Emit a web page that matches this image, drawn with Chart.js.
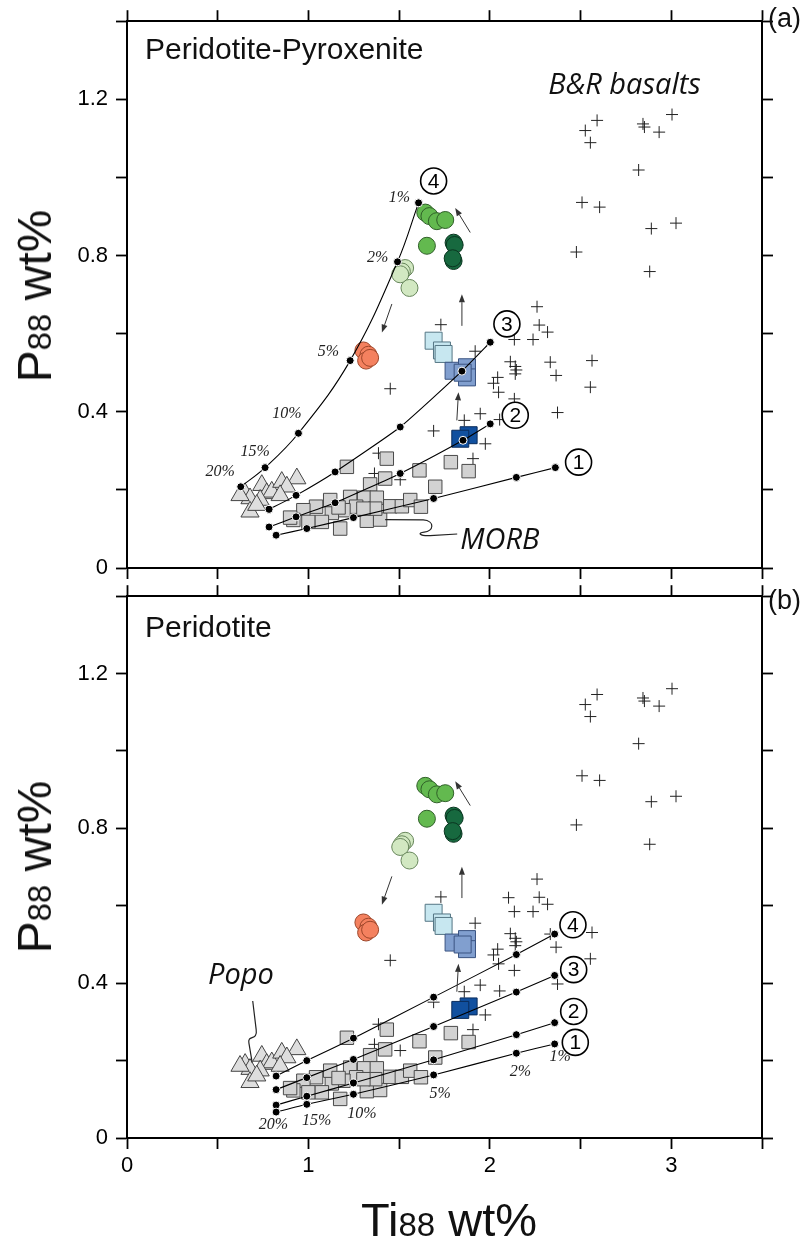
<!DOCTYPE html>
<html>
<head>
<meta charset="utf-8">
<script src="https://cdn.jsdelivr.net/npm/chart.js@4.4.0/dist/chart.umd.min.js"></script>
<style>
    body { margin: 0; background: #fff; width: 807px; height: 1242px; position: relative; overflow: hidden;
           font-family: 'Liberation Sans', Arial, sans-serif; color: #111; }
    canvas { position: absolute; left: 0; }
    .lbl { position: absolute; white-space: nowrap; z-index: 2; line-height: 1; }
    .title { position: absolute; white-space: nowrap; z-index: 2; line-height: 1; font-size: 48px; }
    .title .sub { font-size: 33px; }
    .ytitle { transform: translate(-50%, -50%) rotate(-90deg); }
</style>
</head>
<body>
<canvas id="chartA" width="807" height="600" style="top:0"></canvas>
<canvas id="chartB" width="807" height="667" style="top:575px"></canvas>

<div class="lbl" style="left:145px;top:34px;font-size:30px">Peridotite-Pyroxenite</div>
<div class="lbl" style="left:145px;top:612px;font-size:30px">Peridotite</div>
<div class="lbl" style="left:768px;top:5px;font-size:27px">(a)</div>
<div class="lbl" style="left:768px;top:587px;font-size:27px">(b)</div>
<div class="title ytitle" style="left:35px;top:296px">P<span class="sub">88</span> wt%</div>
<div class="title ytitle" style="left:35px;top:867px">P<span class="sub">88</span> wt%</div>
<div class="title" style="left:361px;top:1196px;font-size:47px">Ti<span class="sub">88</span> wt%</div>

<script>
// axis ticks
const xTickMarks = [0, 0.5, 1, 1.5, 2, 2.5, 3, 3.5];
const xTickLabels = [0, 1, 2, 3];
const yTickMarks = [0, 0.2, 0.4, 0.6, 0.8, 1.0, 1.2, 1.4];
const yTickLabels = [0, 0.4, 0.8, 1.2];

// measured data, [Ti88, P88]
const brBasalts = [
    [2.526, 1.120], [2.554, 1.089], [2.591, 1.146], [2.844, 1.137], [2.852, 1.129], [2.933, 1.116],
    [3.004, 1.161], [2.820, 1.019], [2.508, 0.936], [2.605, 0.924], [2.890, 0.869], [3.026, 0.883],
    [2.477, 0.809], [2.881, 0.759], [2.260, 0.669], [2.272, 0.622], [2.318, 0.604], [2.238, 0.585],
    [2.135, 0.585], [2.103, 0.621], [1.919, 0.555], [2.113, 0.528], [2.140, 0.516], [2.146, 0.507],
    [2.140, 0.497], [2.333, 0.527], [2.365, 0.493], [2.563, 0.531], [2.554, 0.463], [2.043, 0.488],
    [2.020, 0.473], [2.048, 0.450], [2.135, 0.433], [2.373, 0.398], [1.947, 0.395], [1.859, 0.378],
    [2.054, 0.380], [1.975, 0.318], [1.907, 0.280], [1.730, 0.623], [1.451, 0.459], [1.690, 0.351],
    [1.386, 0.294], [1.364, 0.242], [1.506, 0.226]
];
const morb = [
    [1.432, 0.280], [1.212, 0.259], [1.612, 0.250], [1.785, 0.271], [1.883, 0.248], [1.423, 0.229],
    [1.340, 0.214], [1.699, 0.208], [1.230, 0.182], [1.307, 0.180], [1.377, 0.180], [1.263, 0.157],
    [1.193, 0.148], [1.129, 0.141], [1.042, 0.157], [0.972, 0.148], [0.917, 0.123], [1.000, 0.118],
    [1.074, 0.118], [1.175, 0.101], [1.322, 0.121], [1.395, 0.124], [1.368, 0.152], [1.451, 0.158],
    [1.515, 0.158], [1.561, 0.174], [1.620, 0.157], [1.303, 0.152], [1.120, 0.174], [1.166, 0.155],
    [0.899, 0.129]
];
const popo = [
    [0.651, 0.191], [0.743, 0.212], [0.678, 0.178], [0.770, 0.191], [0.798, 0.195], [0.853, 0.220],
    [0.936, 0.229], [0.881, 0.208], [0.734, 0.174], [0.678, 0.144], [0.844, 0.186], [0.623, 0.186],
    [0.715, 0.161]
];
const greenCircles = [[1.644, 0.910], [1.667, 0.901], [1.708, 0.888], [1.754, 0.891], [1.653, 0.825]];
const darkGreenCircles = [[1.800, 0.833], [1.806, 0.827], [1.800, 0.786], [1.795, 0.793]];
const paleGreenCircles = [[1.533, 0.768], [1.515, 0.759], [1.506, 0.752], [1.557, 0.717]];
const salmonCircles = [[1.303, 0.557], [1.331, 0.546], [1.318, 0.531], [1.340, 0.538]];
const paleBlueSquares = [[1.690, 0.582], [1.736, 0.557], [1.745, 0.548]];
const midBlueSquares = [[1.800, 0.505], [1.874, 0.514], [1.874, 0.488], [1.850, 0.500]];
const darkBlueSquares = [[1.883, 0.340], [1.837, 0.331]];

// melting models, 20% -> 1% melt
const meltLabels = ['20%', '15%', '10%', '5%', '2%', '1%'];
const modelsA = [
    [[0.822, 0.084], [0.991, 0.101], [1.248, 0.129], [1.690, 0.178], [2.146, 0.232], [2.361, 0.257]],
    [[0.783, 0.105], [0.932, 0.131], [1.147, 0.167], [1.506, 0.242], [1.852, 0.327], [2.002, 0.369]],
    [[0.783, 0.150], [0.932, 0.186], [1.147, 0.246], [1.506, 0.361], [1.846, 0.504], [2.002, 0.578]],
    [[0.627, 0.208], [0.761, 0.257], [0.945, 0.345], [1.230, 0.531], [1.491, 0.784], [1.607, 0.935]]
];
const modelsB = [
    [[0.822, 0.067], [0.991, 0.087], [1.248, 0.113], [1.690, 0.163], [2.146, 0.219], [2.357, 0.243]],
    [[0.822, 0.085], [0.991, 0.108], [1.248, 0.142], [1.690, 0.202], [2.146, 0.267], [2.357, 0.298]],
    [[0.822, 0.125], [0.991, 0.156], [1.248, 0.203], [1.690, 0.288], [2.146, 0.377], [2.357, 0.420]],
    [[0.822, 0.160], [0.991, 0.200], [1.248, 0.258], [1.690, 0.364], [2.146, 0.474], [2.357, 0.527]]
];
const modelNumbersA = [[2.489, 0.271], [2.140, 0.391], [2.094, 0.625], [1.690, 0.991]];
const modelNumbersB = [[2.471, 0.247], [2.462, 0.327], [2.462, 0.435], [2.458, 0.551]];
const meltLabelPosA = [[0.513, 0.246], [0.706, 0.297], [0.881, 0.395], [1.110, 0.554], [1.381, 0.795], [1.502, 0.948]];
const meltLabelPosB = [[0.807, 0.033], [1.046, 0.044], [1.295, 0.063], [1.726, 0.115], [2.168, 0.170], [2.388, 0.210]];
const arrows = [
    [[1.892, 0.859], [1.809, 0.922]],
    [[1.460, 0.676], [1.405, 0.603]],
    [[1.846, 0.620], [1.846, 0.701]],
    [[1.818, 0.378], [1.827, 0.450]]
];

const toXY = pts => pts.map(([x, y]) => ({ x, y }));

function pointSet(pts, style, radius, fill, stroke, order) {
    return {
        data: toXY(pts), pointStyle: style, pointRadius: radius, pointHoverRadius: radius,
        backgroundColor: fill, borderColor: stroke, borderWidth: 1, showLine: false, order
    };
}

function drawArrow(ctx, x1, y1, x2, y2) {
    const a = Math.atan2(y2 - y1, x2 - x1), h = 8, w = 3;
    const bx = x2 - h * Math.cos(a), by = y2 - h * Math.sin(a);
    ctx.beginPath(); ctx.moveTo(x1, y1); ctx.lineTo(bx, by); ctx.stroke();
    ctx.beginPath(); ctx.moveTo(x2, y2);
    ctx.lineTo(bx + w * Math.sin(a), by - w * Math.cos(a));
    ctx.lineTo(bx - w * Math.sin(a), by + w * Math.cos(a));
    ctx.closePath(); ctx.fill();
}

const annotations = {
    id: 'annotations',
    afterDatasetsDraw(chart, args, opts) {
        const { ctx } = chart;
        const sx = chart.scales.x, sy = chart.scales.y;
        const px = v => sx.getPixelForValue(v), py = v => sy.getPixelForValue(v);
        ctx.save();

        ctx.strokeStyle = '#333'; ctx.fillStyle = '#333'; ctx.lineWidth = 1;
        arrows.forEach(([a, b]) => drawArrow(ctx, px(a[0]), py(a[1]), px(b[0]), py(b[1])));

        // leader lines
        ctx.strokeStyle = '#222'; ctx.lineWidth = 1.2;
        if (opts.morb) {
            ctx.beginPath();
            ctx.moveTo(px(1.423), py(0.124));
            ctx.lineTo(px(1.633), py(0.123));
            ctx.bezierCurveTo(px(1.70), py(0.121), px(1.69), py(0.093), px(1.638), py(0.092));
            ctx.bezierCurveTo(px(1.600), py(0.090), px(1.610), py(0.082), px(1.671), py(0.083));
            ctx.lineTo(px(1.820), py(0.087));
            ctx.stroke();
        }
        if (opts.popo) {
            ctx.beginPath();
            ctx.moveTo(px(0.693), py(0.354));
            ctx.lineTo(px(0.712), py(0.280));
            ctx.bezierCurveTo(px(0.722), py(0.250), px(0.662), py(0.268), px(0.672), py(0.245));
            ctx.lineTo(px(0.690), py(0.195));
            ctx.stroke();
        }

        // melt fraction labels
        ctx.fillStyle = '#222';
        ctx.font = 'italic 16px "Liberation Serif", "DejaVu Serif", serif';
        ctx.textAlign = 'center'; ctx.textBaseline = 'middle';
        opts.meltPos.forEach(([x, y], i) => ctx.fillText(meltLabels[i], px(x), py(y)));

        // italic group labels
        ctx.font = 'italic 29px "Open Sans", "DejaVu Sans", sans-serif';
        ctx.fillStyle = '#111'; ctx.textAlign = 'left';
        opts.texts.forEach(t => ctx.fillText(t[0], px(t[1]), py(t[2])));

        // circled model numbers
        ctx.font = '21px "Liberation Sans", Arial, sans-serif';
        ctx.textAlign = 'center';
        opts.numbers.forEach(([x, y], i) => {
            ctx.beginPath();
            ctx.arc(px(x), py(y), 13, 0, Math.PI * 2);
            ctx.fillStyle = '#fff'; ctx.fill();
            ctx.strokeStyle = '#000'; ctx.lineWidth = 1.6; ctx.stroke();
            ctx.fillStyle = '#000';
            ctx.fillText(String(i + 1), px(x), py(y) + 1);
        });
        ctx.restore();
    }
};

function makePanel(canvasId, topH, bottomH, models, panelOpts, showXLabels) {
    const tickFont = { family: "'Liberation Sans', Arial, sans-serif", size: 22 };
    const grid = { drawOnChartArea: false, drawTicks: true, tickLength: 11, tickWidth: 1.8, tickColor: '#000' };
    const border = { display: true, color: '#000', width: 2 };
    const xScale = (position, labels, height) => ({
        type: 'linear', position, min: 0, max: 3.5,
        grid, border,
        afterBuildTicks: s => { s.ticks = xTickMarks.map(v => ({ value: v })); },
        afterFit: s => { s.height = height; },
        ticks: {
            display: labels, color: '#000', font: tickFont, padding: 4, maxRotation: 0, autoSkip: false,
            callback: v => xTickLabels.includes(v) ? String(v) : ''
        }
    });
    const yScale = (position, labels, width) => ({
        type: 'linear', position, min: 0, max: 1.4,
        grid, border,
        afterBuildTicks: s => { s.ticks = yTickMarks.map(v => ({ value: v })); },
        afterFit: s => { s.width = width; },
        ticks: {
            display: labels, color: '#000', font: tickFont, padding: 8, autoSkip: false,
            callback: v => {
                const r = Math.round(v * 10) / 10;
                return yTickLabels.includes(r) ? (r === 0 ? '0' : r.toFixed(1)) : '';
            }
        }
    });

    const curves = models.map((m, i) => ({
        data: toXY(m), showLine: true, borderColor: '#000', borderWidth: 1.1,
        tension: i === 3 && panelOpts.curvy ? 0.4 : 0.15,
        pointRadius: 4, pointHoverRadius: 4, pointBackgroundColor: '#000',
        pointBorderColor: '#fff', pointBorderWidth: 1, order: 0
    }));

    return new Chart(document.getElementById(canvasId), {
        type: 'scatter',
        data: {
            datasets: [
                ...curves,
                pointSet(greenCircles, 'circle', 8.5, '#63b94f', '#2f5f28', 1),
                pointSet(darkGreenCircles, 'circle', 8.5, '#17693f', '#0a3520', 1),
                pointSet(paleGreenCircles, 'circle', 8.5, '#d2e8c2', '#66855a', 1),
                pointSet(salmonCircles, 'circle', 8.5, '#f4815f', '#9c4529', 1),
                pointSet(darkBlueSquares, 'rect', 12, '#11509f', '#0a2c5c', 1),
                pointSet(midBlueSquares, 'rect', 12, '#819fcf', '#3b5482', 1),
                pointSet(paleBlueSquares, 'rect', 12, '#c7e7f0', '#557684', 1),
                pointSet(popo, 'triangle', 10.5, '#dedede', '#444', 2),
                pointSet(morb, 'rect', 9.5, '#d2d2d2', '#4a4a4a', 3),
                pointSet(brBasalts, 'cross', 6, '#222', '#222', 4)
            ]
        },
        options: {
            responsive: false, animation: false, devicePixelRatio: 1,
            layout: { padding: 0 },
            plugins: { legend: { display: false }, tooltip: { enabled: false }, annotations: panelOpts },
            scales: {
                x: xScale('bottom', showXLabels, bottomH),
                x2: xScale('top', false, topH),
                y: yScale('left', true, 127),
                y2: yScale('right', false, 45)
            }
        },
        plugins: [annotations]
    });
}

makePanel('chartA', 19, 32, modelsA, {
    curvy: true, morb: true, popo: false,
    meltPos: meltLabelPosA, numbers: modelNumbersA,
    texts: [['B&R basalts', 2.322, 1.236], ['MORB', 1.837, 0.071]]
}, false);

makePanel('chartB', 17, 104, modelsB, {
    curvy: false, morb: false, popo: true,
    meltPos: meltLabelPosB, numbers: modelNumbersB,
    texts: [['Popo', 0.447, 0.418]]
}, true);
</script>
</body>
</html>
